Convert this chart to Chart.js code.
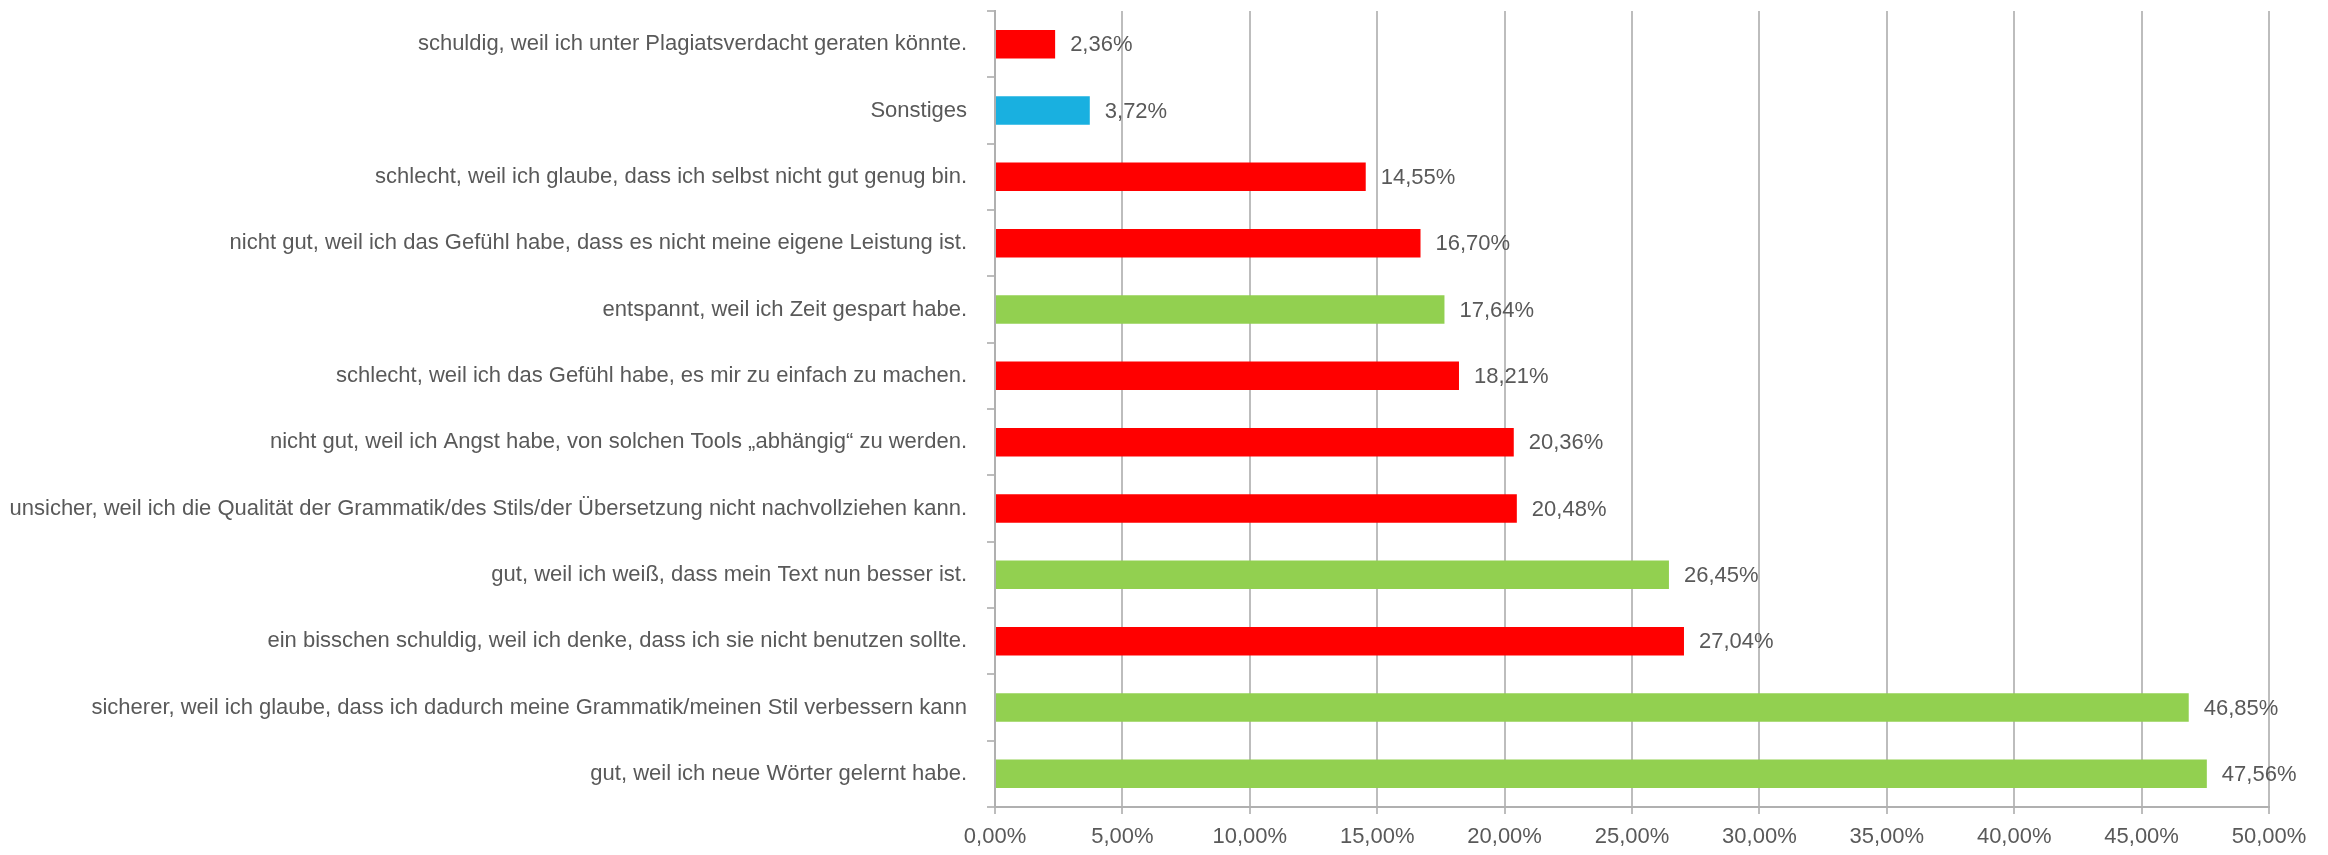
<!DOCTYPE html>
<html>
<head>
<meta charset="utf-8">
<script src="https://cdn.jsdelivr.net/npm/chart.js@4/dist/chart.umd.min.js"></script>
<style>
  html, body { margin: 0; padding: 0; background: #fff; }
</style>
</head>
<body>
<canvas id="chart" width="2328" height="855"></canvas>
<script>
var labels = [
    "schuldig, weil ich unter Plagiatsverdacht geraten könnte.",
    "Sonstiges",
    "schlecht, weil ich glaube, dass ich selbst nicht gut genug bin.",
    "nicht gut, weil ich das Gefühl habe, dass es nicht meine eigene Leistung ist.",
    "entspannt, weil ich Zeit gespart habe.",
    "schlecht, weil ich das Gefühl habe, es mir zu einfach zu machen.",
    "nicht gut, weil ich Angst habe, von solchen Tools „abhängig“ zu werden.",
    "unsicher, weil ich die Qualität der Grammatik/des Stils/der Übersetzung nicht nachvollziehen kann.",
    "gut, weil ich weiß, dass mein Text nun besser ist.",
    "ein bisschen schuldig, weil ich denke, dass ich sie nicht benutzen sollte.",
    "sicherer, weil ich glaube, dass ich dadurch meine Grammatik/meinen Stil verbessern kann",
    "gut, weil ich neue Wörter gelernt habe."
];
var values = [2.36, 3.72, 14.55, 16.70, 17.64, 18.21, 20.36, 20.48, 26.45, 27.04, 46.85, 47.56];
var colors = ["#ff0000", "#19b0e0", "#ff0000", "#ff0000", "#92d050", "#ff0000", "#ff0000", "#ff0000", "#92d050", "#ff0000", "#92d050", "#92d050"];

var textColor = "#595959";
var gridColor = "#bdbdbd";
var fontFamily = "'Liberation Sans Narrow', 'Liberation Sans', Arial, sans-serif";
var fontSize = 22;

function pct(v) {
    return v.toFixed(2).replace('.', ',') + '%';
}

// value labels to the right of every bar
var valueLabels = {
    id: 'valueLabels',
    afterDatasetsDraw: function(chart) {
        var ctx = chart.ctx;
        var meta = chart.getDatasetMeta(0);
        ctx.save();
        ctx.font = fontSize + "px " + fontFamily;
        ctx.fillStyle = textColor;
        ctx.textAlign = 'left';
        ctx.textBaseline = 'middle';
        meta.data.forEach(function(bar, i) {
            ctx.fillText(pct(values[i]), bar.x + 15, bar.y + 1);
        });
        ctx.restore();
    }
};

Chart.defaults.font.family = fontFamily;
Chart.defaults.font.size = fontSize;
Chart.defaults.color = textColor;

new Chart(document.getElementById('chart'), {
    type: 'bar',
    data: {
        labels: labels,
        datasets: [{
            data: values,
            backgroundColor: colors,
            barPercentage: 0.43,
            categoryPercentage: 1
        }]
    },
    options: {
        indexAxis: 'y',
        responsive: false,
        animation: false,
        layout: { padding: { top: 11, right: 59, left: 0, bottom: 0 } },
        plugins: {
            legend: { display: false },
            tooltip: { enabled: false }
        },
        scales: {
            x: {
                min: 0,
                max: 50,
                ticks: {
                    stepSize: 5,
                    padding: 10,
                    maxRotation: 0,
                    callback: function(v) { return pct(v); }
                },
                grid: { color: gridColor, lineWidth: 2, tickLength: 7 },
                border: { color: "#b0b0b0", width: 2 },
                afterFit: function(scale) { scale.height = 48; }
            },
            y: {
                ticks: { padding: 20, autoSkip: false },
                grid: { offset: true, drawOnChartArea: false, color: gridColor, lineWidth: 2, tickLength: 8 },
                border: { color: "#b0b0b0", width: 2 },
                afterFit: function(scale) {
                    scale.width = 995;
                    scale.paddingTop = 0;
                    scale.paddingBottom = 0;
                }
            }
        }
    },
    plugins: [valueLabels]
});
</script>
</body>
</html>
